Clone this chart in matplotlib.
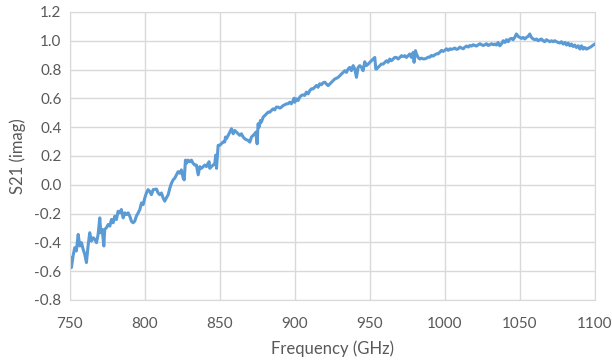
import matplotlib
matplotlib.use("Agg")
import matplotlib.pyplot as plt

# values
freq_a = [750.7, 751.1, 752.2, 753.3, 754.4, 755.6, 756.7, 757.8, 758.9, 760.0,
          761.1, 762.2, 763.3, 764.4, 765.6, 766.7, 767.8, 768.9, 770.0, 770.7,
          771.6, 772.7, 773.3, 774.4, 775.6, 776.7, 777.8, 778.9, 780.0, 781.1,
          782.2, 783.3, 784.4, 785.6, 786.7, 787.8, 788.9, 790.0, 791.1, 792.2,
          793.3, 794.4, 795.6, 796.7, 797.8, 798.9, 800.0, 801.1, 802.2, 803.3,
          804.4, 805.6]
s21_a = [-0.506, -0.575, -0.494, -0.437, -0.46, -0.345, -0.425, -0.402, -0.448, -0.483,
         -0.54, -0.425, -0.333, -0.391, -0.368, -0.379, -0.402, -0.345, -0.23, -0.333,
         -0.31, -0.425, -0.31, -0.299, -0.276, -0.287, -0.241, -0.264, -0.218, -0.241,
         -0.184, -0.195, -0.172, -0.23, -0.195, -0.207, -0.195, -0.218, -0.253, -0.264,
         -0.253, -0.218, -0.195, -0.172, -0.126, -0.138, -0.092, -0.057, -0.034, -0.046,
         -0.069, -0.034]

freq_b = [807.8, 808.9, 810.0, 811.1, 812.2, 813.3, 814.4, 815.6, 816.7, 817.8,
          818.9, 820.0, 821.1, 822.2, 823.3, 824.4, 825.6, 826.3, 827.1, 827.8,
          828.9, 830.0, 831.1, 832.2, 833.3, 834.4, 835.6, 836.7, 837.8, 838.9,
          840.0, 841.1, 842.2, 842.9, 843.3, 844.4, 845.6, 846.7, 847.3, 847.8,
          848.5, 848.9, 850.0, 851.1, 852.2, 853.3, 853.8, 854.4, 855.6, 856.7,
          857.8, 858.9, 860.0, 861.1, 862.2, 863.3]
s21_b = [-0.03, -0.057, -0.069, -0.057, -0.091, -0.114, -0.091, -0.069, -0.023, 0.011,
         0.034, 0.046, 0.069, 0.091, 0.08, 0.103, 0.046, 0.034, 0.171, 0.149,
         0.171, 0.16, 0.171, 0.149, 0.137, 0.137, 0.069, 0.126, 0.114, 0.126,
         0.137, 0.126, 0.149, 0.16, 0.114, 0.126, 0.137, 0.149, 0.206, 0.114,
         0.217, 0.274, 0.274, 0.286, 0.297, 0.297, 0.331, 0.32, 0.343, 0.366,
         0.389, 0.354, 0.377, 0.366, 0.354, 0.343]

freq_c = [864.4, 865.6, 866.7, 867.8, 868.9, 870.0, 871.1, 872.2, 873.3, 874.0,
          874.4, 874.9, 875.5, 876.2, 877.1, 877.7, 878.9, 880.0, 881.1, 882.2,
          883.3, 884.4, 885.5, 886.6, 887.7, 888.9, 890.0, 891.1, 892.2, 893.3,
          894.4, 895.5, 896.6, 897.7, 898.9, 899.5, 900.0, 901.1, 902.2, 903.3,
          904.4, 905.5, 906.6, 907.7, 908.9, 910.0, 911.1, 912.2, 913.3, 914.4,
          915.5, 916.6, 917.7, 918.9, 920.0]
s21_c = [0.354, 0.331, 0.319, 0.312, 0.308, 0.296, 0.331, 0.342, 0.354, 0.365,
         0.331, 0.284, 0.423, 0.4, 0.446, 0.435, 0.469, 0.481, 0.492, 0.504,
         0.504, 0.516, 0.527, 0.52, 0.539, 0.539, 0.532, 0.539, 0.55, 0.555,
         0.562, 0.562, 0.573, 0.562, 0.585, 0.601, 0.573, 0.597, 0.585, 0.608,
         0.62, 0.624, 0.62, 0.643, 0.631, 0.654, 0.666, 0.666, 0.677, 0.689,
         0.677, 0.701, 0.694, 0.708, 0.712]

freq_d = [921.1, 922.2, 923.3, 924.4, 925.5, 926.6, 927.7, 928.9, 930.0, 931.1,
          932.2, 933.3, 934.4, 935.5, 936.6, 937.7, 938.9, 940.0, 941.1, 942.2,
          943.3, 944.4, 945.5, 946.6, 947.7, 948.9, 950.0, 951.1, 952.2, 953.3,
          954.0, 954.4, 955.5, 956.6, 957.7, 958.9, 960.0, 961.1, 962.2, 963.3,
          964.4, 965.5, 966.6, 967.7, 968.9, 970.0, 971.1, 972.2, 973.3, 974.4,
          975.5, 976.6, 977.7, 978.9, 979.5, 980.4, 981.1, 982.2, 983.3]
s21_d = [0.699, 0.688, 0.699, 0.711, 0.723, 0.734, 0.739, 0.746, 0.757, 0.769,
         0.78, 0.792, 0.78, 0.803, 0.815, 0.792, 0.827, 0.803, 0.746, 0.815,
         0.827, 0.815, 0.792, 0.854, 0.827, 0.838, 0.85, 0.861, 0.873, 0.884,
         0.803, 0.803, 0.815, 0.827, 0.838, 0.838, 0.85, 0.861, 0.85, 0.873,
         0.861, 0.873, 0.884, 0.884, 0.873, 0.884, 0.896, 0.891, 0.896, 0.884,
         0.896, 0.908, 0.884, 0.919, 0.85, 0.931, 0.908, 0.884, 0.873]

freq_e = [984.4, 985.5, 986.7, 987.8, 988.9, 990.0, 991.1, 992.2, 993.3, 994.5,
          995.6, 996.7, 997.8, 998.9, 1000.0, 1001.1, 1002.2, 1003.4, 1004.5, 1005.6,
          1006.7, 1007.8, 1008.9, 1010.0, 1011.1, 1012.3, 1013.4, 1014.5, 1015.6, 1016.7,
          1017.8, 1018.9, 1020.0, 1021.1, 1022.3, 1023.4, 1024.5, 1025.6, 1026.7, 1027.8,
          1028.9, 1030.0, 1031.1, 1032.3]
s21_e = [0.879, 0.874, 0.874, 0.879, 0.886, 0.886, 0.898, 0.893, 0.902, 0.909,
         0.909, 0.921, 0.933, 0.926, 0.933, 0.944, 0.933, 0.944, 0.94, 0.944,
         0.949, 0.94, 0.944, 0.956, 0.949, 0.944, 0.956, 0.963, 0.956, 0.967,
         0.963, 0.972, 0.967, 0.963, 0.972, 0.979, 0.972, 0.967, 0.972, 0.979,
         0.967, 0.972, 0.979, 0.972]

freq_f = [1033.3, 1034.4, 1035.5, 1036.6, 1037.7, 1038.9, 1040.0, 1041.1, 1042.2, 1043.3,
          1044.4, 1045.5, 1046.6, 1047.7, 1048.9, 1050.0, 1051.1, 1052.2, 1053.3, 1054.4,
          1055.5, 1056.6, 1057.7, 1058.9, 1060.0, 1061.1, 1062.2, 1063.3, 1064.4, 1065.5,
          1066.6, 1067.7, 1068.9, 1070.0, 1071.1, 1072.2, 1073.3, 1074.4, 1075.5, 1076.6,
          1077.7, 1078.9, 1080.0, 1081.1, 1082.2, 1083.3, 1084.4, 1085.5, 1086.6, 1087.7,
          1088.9, 1090.0, 1091.1, 1092.2, 1093.3, 1094.4, 1095.5, 1096.6, 1097.7, 1098.9,
          1100.0]
s21_f = [0.977, 0.97, 0.988, 0.965, 0.977, 1.0, 0.988, 1.007, 0.993, 1.012,
         1.016, 1.007, 1.023, 1.047, 1.03, 1.023, 1.016, 1.023, 1.012, 1.023,
         1.03, 1.047, 1.023, 1.012, 1.007, 1.012, 1.0, 1.007, 1.012, 1.0,
         0.993, 1.007, 1.0, 0.993, 1.0, 0.993, 1.0, 0.993, 0.988, 0.984,
         0.993, 0.977, 0.988, 0.97, 0.984, 0.965, 0.977, 0.96, 0.97, 0.953,
         0.965, 0.942, 0.965, 0.942, 0.953, 0.942, 0.947, 0.953, 0.96, 0.97,
         0.977]

freq = freq_a + freq_b + freq_c + freq_d + freq_e + freq_f
s21 = s21_a + s21_b + s21_c + s21_d + s21_e + s21_f

x_ticks = [750, 800, 850, 900, 950, 1000, 1050, 1100]
y_ticks = [-0.8, -0.6, -0.4, -0.2, 0.0, 0.2, 0.4, 0.6, 0.8, 1.0, 1.2]

plt.rcParams['font.family'] = ['Lato', 'DejaVu Sans']
fig = plt.figure(figsize=(6.12, 3.61), dpi=100)
ax = fig.add_axes([0.114, 0.169, 0.858, 0.798])

ax.plot(freq, s21, color='#5B9BD5', lw=2.2, solid_joinstyle='round')

ax.set_xlim(750, 1100)
ax.set_ylim(-0.8, 1.2)
ax.set_xticks(x_ticks)
ax.set_yticks(y_ticks)
ax.set_yticklabels(['%.1f' % v for v in y_ticks])
ax.grid(True, color='#D9D9D9', lw=1)
ax.set_axisbelow(True)
for s in ax.spines.values():
    s.set_color('#D9D9D9')
ax.tick_params(length=0, labelsize=11, labelcolor='#595959', pad=6)
ax.tick_params(axis='x', pad=12)
ax.set_xlabel('Frequency (GHz)', fontsize=12, color='#595959', labelpad=7)
ax.set_ylabel('S21 (imag)', fontsize=12, color='#595959', labelpad=6)

fig.savefig('out.png', dpi=100)
